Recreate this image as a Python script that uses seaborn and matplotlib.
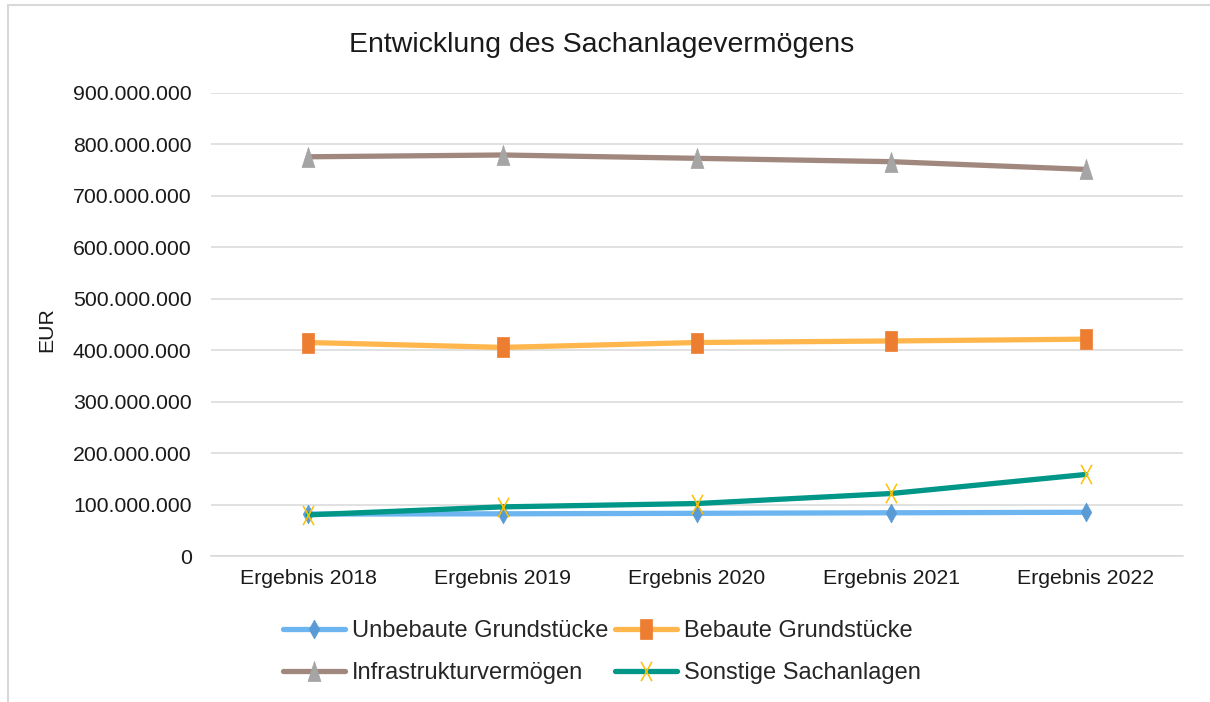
import numpy as np
import pandas as pd
import matplotlib
matplotlib.use("Agg")
import matplotlib.pyplot as plt
import seaborn as sns
from matplotlib.path import Path
from matplotlib.patches import Rectangle
from matplotlib.ticker import FuncFormatter, MultipleLocator

# =========================================================
# DATA (EUR)
# =========================================================
years = ["Ergebnis 2018", "Ergebnis 2019", "Ergebnis 2020", "Ergebnis 2021", "Ergebnis 2022"]
unbebaute = [81_500_000, 82_000_000, 83_000_000, 84_000_000, 85_000_000]
bebaute = [415_000_000, 405_500_000, 415_000_000, 418_000_000, 421_500_000]
infrastruktur = [776_000_000, 779_500_000, 773_000_000, 766_500_000, 751_500_000]
sonstige = [80_000_000, 95_500_000, 102_000_000, 121_500_000, 158_500_000]

series_names = ["Unbebaute Grundstücke", "Bebaute Grundstücke",
                "Infrastrukturvermögen", "Sonstige Sachanlagen"]
series_values = [unbebaute, bebaute, infrastruktur, sonstige]

df = pd.DataFrame({
    "Jahr": years * len(series_names),
    "pos": list(range(len(years))) * len(series_names),
    "Wert": [v for vals in series_values for v in vals],
    "Serie": [n for n in series_names for _ in years],
})

# =========================================================
# STYLE
# =========================================================
sns.set_theme(style="white")
plt.rcParams["font.family"] = ["Liberation Sans", "DejaVu Sans"]

# tall, narrow marker shapes like the reference
diamond = [(0, 0.5), (0.28, 0), (0, -0.5), (-0.28, 0), (0, 0.5)]
square = [(-0.3, -0.5), (0.3, -0.5), (0.3, 0.5), (-0.3, 0.5), (-0.3, -0.5)]
triangle = [(-0.32, -0.5), (0.32, -0.5), (0, 0.5), (-0.32, -0.5)]
cross = Path([(-0.28, -0.5), (0.28, 0.5), (-0.28, 0.5), (0.28, -0.5)],
             [Path.MOVETO, Path.LINETO, Path.MOVETO, Path.LINETO])

styles = {
    "Unbebaute Grundstücke": dict(color="#6DB5F0", marker=diamond, ms=13.5, mfc="#5B9BD5", mec="#5B9BD5"),
    "Bebaute Grundstücke": dict(color="#FFB74D", marker=square, ms=14.5, mfc="#ED7D31", mec="#ED7D31"),
    "Infrastrukturvermögen": dict(color="#A1887F", marker=triangle, ms=14.5, mfc="#A5A5A5", mec="#A5A5A5"),
    "Sonstige Sachanlagen": dict(color="#009688", marker=cross, ms=14, mfc="none", mec="#FFC000", mew=1.1),
}

fig = plt.figure(figsize=(12.1, 7.02), dpi=100)
ax = fig.add_axes([211 / 1210, 1 - 556 / 702, (1183 - 211) / 1210, (556 - 93) / 702])

for name in series_names:
    st = styles[name]
    sns.lineplot(
        data=df[df["Serie"] == name], x="pos", y="Wert", ax=ax,
        color=st["color"], linewidth=3.8, marker=st["marker"],
        markersize=st["ms"], markerfacecolor=st["mfc"],
        markeredgecolor=st["mec"], markeredgewidth=st.get("mew", 0.5),
        label=name, errorbar=None,
    )

ax.set_xlim(-0.5, len(years) - 0.5)
ax.set_ylim(0, 900_000_000)
ax.yaxis.set_major_locator(MultipleLocator(100_000_000))
ax.yaxis.set_major_formatter(FuncFormatter(lambda v, _: f"{int(round(v)):,}".replace(",", ".")))
ax.set_xticks(range(len(years)))
ax.set_xticklabels(years)
ax.grid(axis="y", color="#D9D9D9", linewidth=1.1)
ax.set_axisbelow(True)
for s in ["top", "right", "left"]:
    ax.spines[s].set_visible(False)
ax.spines["bottom"].set_color("#D9D9D9")
ax.spines["bottom"].set_linewidth(1.1)
ax.tick_params(axis="y", length=0, pad=14, labelsize=15.3, labelcolor="#1a1a1a")
ax.tick_params(axis="x", length=0, pad=9, labelsize=15.3, labelcolor="#1a1a1a")
ax.set_xlabel("")
ax.set_ylabel("")
if ax.get_legend() is not None:
    ax.get_legend().remove()

fig.text(47 / 1210, 1 - 330 / 702, "EUR", rotation=90, ha="center", va="center",
         fontsize=15.3, color="#1a1a1a")
fig.text(602 / 1210, 1 - 45 / 702, "Entwicklung des Sachanlagevermögens",
         ha="center", va="center", fontsize=20.5, color="#1a1a1a")

# legend filled row by row: (Unbebaute, Bebaute) / (Infrastruktur, Sonstige)
handles, labels = ax.get_legend_handles_labels()
order = [0, 2, 1, 3]
fig.legend([handles[i] for i in order], [labels[i] for i in order], ncol=2, loc="center",
           bbox_to_anchor=(602 / 1210, 1 - 652 / 702),
           frameon=False, fontsize=17, handlelength=2.6, handletextpad=0.3,
           columnspacing=0.3, labelspacing=0.85, markerscale=1.0)

# thin light-gray frame (top and left edges visible in the reference)
fig.patches.append(Rectangle((8 / 1210, -0.05), 1.2, 1 - 5 / 702 + 0.05,
                             transform=fig.transFigure, fill=False,
                             edgecolor="#D9D9D9", linewidth=1.5))

fig.savefig("out.png", dpi=100)
